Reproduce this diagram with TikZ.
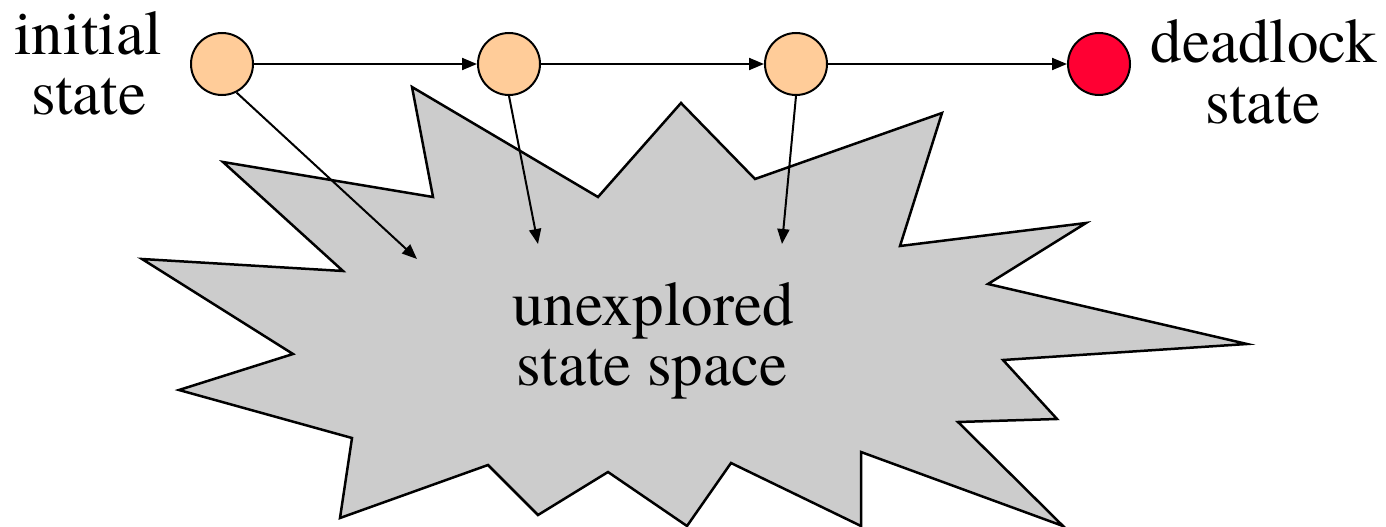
\documentclass[tikz,border=0pt]{standalone}
\usepackage{fontspec}
\setmainfont{texgyretermes}[Extension=.otf,UprightFont=*-regular,BoldFont=*-bold,ItalicFont=*-italic,BoldItalicFont=*-bolditalic]
\usetikzlibrary{arrows.meta}
\definecolor{peach}{RGB}{255,204,153}
\definecolor{dlred}{RGB}{255,0,51}
\definecolor{burst}{RGB}{204,204,204}
\tikzset{
  statenode/.style={circle,draw=black,line width=2pt,minimum size=62pt,inner sep=0pt},
  lbl/.style={anchor=base,inner sep=0pt,font=\fontsize{63}{60}\selectfont},
  trans/.style={line width=2pt,-{Triangle[length=15pt,width=12pt]}},
  burststyle/.style={fill=burst,draw=black,line width=2.5pt,line join=miter}
}
\begin{document}
\begin{tikzpicture}[x=1pt,y=-1pt]
\useasboundingbox (0,0) rectangle (1386,527);
% starburst
\draw[burststyle] (142,259) -- (343,271) -- (223,162) -- (433,197) -- (412,87) -- (598,197)
  -- (681,103) -- (755,179) -- (942,113) -- (900,246) -- (1086,223) -- (988,284)
  -- (1247,344) -- (1003,360) -- (1057,419) -- (958,422) -- (1063,526) -- (861,452)
  -- (861,526) -- (731,463) -- (687,526) -- (608,472) -- (538,515) -- (488,465)
  -- (340,518) -- (352,438) -- (179,390) -- (293,354) -- cycle;
\node[lbl] (u1) at (653,325) {unexplored};
\node[lbl] (u2) at (652,385) {state space};
% states
\node[statenode,fill=peach] (c1) at (222,64) {};
\node[statenode,fill=peach] (c2) at (509,64) {};
\node[statenode,fill=peach] (c3) at (796,64) {};
\node[statenode,fill=dlred] (c4) at (1099,64) {};
\coordinate (t1) at (417,259);
\coordinate (t2) at (538,244);
\coordinate (t3) at (782,244);
\draw[trans] (c1) -- (c2);
\draw[trans] (c2) -- (c3);
\draw[trans] (c3) -- (c4);
\draw[trans] (c1.-63) -- (t1);
\draw[trans] (c2.south) -- (t2);
\draw[trans] (c3.south) -- (t3);
% labels
\node[lbl] (i1) at (88,55) {initial};
\node[lbl] (i2) at (89,114) {state};
\node[lbl] (d1) at (1264,63) {deadlock};
\node[lbl] (d2) at (1263,123) {state};
\end{tikzpicture}
\end{document}
